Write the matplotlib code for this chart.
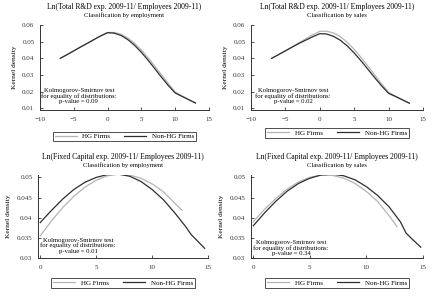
import matplotlib
matplotlib.use("Agg")
import matplotlib.pyplot as plt
from matplotlib.lines import Line2D

plt.rcParams['font.family'] = ['Liberation Serif', 'DejaVu Serif']

# ---- data ----
rd_emp_x_dark = [-7, -6, -5, -4, -3, -2, -1, 0, 1, 2, 3, 4, 5, 6, 7, 8, 9, 10, 11, 12, 13]
rd_emp_dark = [0.0400, 0.0422, 0.0445, 0.0468, 0.0490, 0.0513, 0.0535, 0.0554, 0.0551, 0.0537,
               0.0512, 0.0478, 0.0436, 0.0388, 0.0337, 0.0285, 0.0236, 0.0192, 0.0172, 0.0152, 0.0132]
rd_emp_x_light = rd_emp_x_dark
rd_emp_light = [0.0400, 0.0422, 0.0445, 0.0468, 0.0490, 0.0513, 0.0535, 0.0555, 0.0555, 0.0544,
                0.0522, 0.0490, 0.0450, 0.0403, 0.0352, 0.0300, 0.0248, 0.0198, 0.0174, 0.0153, 0.0132]

rd_sal_x = [-7, -6, -5, -4, -3, -2, -1, 0, 1, 2, 3, 4, 5, 6, 7, 8, 9, 10, 11, 12, 13]
rd_sal_dark = [0.0400, 0.0422, 0.0445, 0.0468, 0.0490, 0.0510, 0.0530, 0.0548, 0.0546, 0.0532,
               0.0508, 0.0474, 0.0432, 0.0385, 0.0334, 0.0283, 0.0234, 0.0190, 0.0171, 0.0151, 0.0131]
rd_sal_light = [0.0400, 0.0422, 0.0445, 0.0469, 0.0494, 0.0518, 0.0542, 0.0562, 0.0563, 0.0552,
                0.0530, 0.0496, 0.0454, 0.0405, 0.0353, 0.0299, 0.0246, 0.0196, 0.0174, 0.0152, 0.0131]

fc_emp_x_dark = [0, 1, 2, 3, 4, 5, 6, 7, 8, 9, 10, 11, 12, 13, 13.5, 14, 14.7]
fc_emp_dark = [0.0388, 0.0418, 0.0446, 0.0470, 0.0488, 0.0500, 0.0507, 0.0508, 0.0503, 0.0490,
               0.0470, 0.0445, 0.0413, 0.0378, 0.0358, 0.0344, 0.0324]
fc_emp_x_light = [0, 1, 2, 3, 4, 5, 6, 7, 8, 9, 10, 11, 12, 12.7]
fc_emp_light = [0.0355, 0.0392, 0.0425, 0.0453, 0.0476, 0.0493, 0.0504, 0.0508, 0.0506, 0.0498,
                0.0484, 0.0465, 0.0437, 0.0418]

fc_sal_x_dark = [0, 1, 2, 3, 4, 5, 6, 7, 8, 9, 10, 11, 12, 13, 13.5, 14, 14.8]
fc_sal_dark = [0.0380, 0.0412, 0.0441, 0.0466, 0.0485, 0.0498, 0.0506, 0.0508, 0.0504, 0.0494,
               0.0477, 0.0455, 0.0427, 0.0390, 0.0362, 0.0348, 0.0327]
fc_sal_x_light = [0, 1, 2, 3, 4, 5, 6, 7, 8, 9, 10, 11, 12, 12.7]
fc_sal_light = [0.0390, 0.0421, 0.0448, 0.0471, 0.0489, 0.0500, 0.0506, 0.0505, 0.0498, 0.0485,
                0.0465, 0.0440, 0.0405, 0.0378]

titles = ["Ln(Total R&D exp. 2009-11/ Employees 2009-11)",
          "Ln(Total R&D exp. 2009-11/ Employees 2009-11)",
          "Ln(Fixed Capital exp. 2009-11/ Employees 2009-11)",
          "Ln(Fixed Capital exp. 2009-11/ Employees 2009-11)"]
subtitles = ["Classification by employment", "Classification by sales",
             "Classification by employment", "Classification by sales"]
pvalues = ["0.09", "0.02", "0.01", "0.34"]
series_names = ["HG Firms", "Non-HG Firms"]

rd_xticks = [-10, -5, 0, 5, 10, 15]
rd_yticks = [0.01, 0.02, 0.03, 0.04, 0.05, 0.06]
rd_yticklabels = ["0.01", "0.02", "0.03", "0.04", "0.05", "0.06"]
fc_xticks = [0, 5, 10, 15]
fc_yticks = [0.03, 0.035, 0.04, 0.045, 0.05]
fc_yticklabels = ["0.03", "0.035", "0.04", "0.045", "0.05"]

LIGHT = "#b4b4b4"
DARK = "#2e2e2e"

W, H = 433, 299
fig = plt.figure(figsize=(W / 100, H / 100), dpi=100)

def px_axes(l, r, t, b):
    return fig.add_axes([l / W, 1 - b / H, (r - l) / W, (b - t) / H])

axes_px = [(40, 209, 25, 110), (251, 423, 25, 110), (38, 208, 175, 258), (251, 423, 175, 258)]
panels = [
    (rd_emp_x_light, rd_emp_light, rd_emp_x_dark, rd_emp_dark),
    (rd_sal_x, rd_sal_light, rd_sal_x, rd_sal_dark),
    (fc_emp_x_light, fc_emp_light, fc_emp_x_dark, fc_emp_dark),
    (fc_sal_x_light, fc_sal_light, fc_sal_x_dark, fc_sal_dark),
]
text_pos = [(0.23, 0.165), (0.245, 0.165), (0.235, 0.15), (0.233, 0.12)]
leg_pos = [(0.50, -0.31), (0.50, -0.27), (0.50, -0.30), (0.50, -0.30)]
title_y = [7, 7, 157, 157]
sub_y = [15, 15, 165, 165]

for i, (pos, data) in enumerate(zip(axes_px, panels)):
    ax = px_axes(*pos)
    xl, yl, xd, yd = data
    ax.plot(xl, yl, color=LIGHT, lw=0.9)
    ax.plot(xd, yd, color=DARK, lw=0.9)
    if i < 2:
        ax.set_xlim(-10, 15)
        ax.set_ylim(0.009, 0.06)
        ax.set_xticks(rd_xticks)
        ax.set_yticks(rd_yticks)
        ax.set_yticklabels(rd_yticklabels)
    else:
        ax.set_xlim(-0.2, 15)
        ax.set_ylim(0.03, 0.0506)
        ax.set_xticks(fc_xticks)
        ax.set_yticks(fc_yticks)
        ax.set_yticklabels(fc_yticklabels)
    for s in ["top", "right"]:
        ax.spines[s].set_visible(False)
    for s in ["left", "bottom"]:
        ax.spines[s].set_linewidth(0.7)
        ax.spines[s].set_color("#333333")
    ax.tick_params(direction="in", length=2, width=0.6, labelsize=5, colors="#333333")
    ax.tick_params(axis="x", pad=5)
    ax.tick_params(axis="y", pad=4)
    ax.set_ylabel("Kernel density", fontsize=5.3, labelpad=4)
    ax.text(text_pos[i][0], text_pos[i][1],
            "Kolmogorov-Smirnov test\nfor equality of distributions:\np-value = " + pvalues[i],
            transform=ax.transAxes, ha="center", va="center", fontsize=4.8, linespacing=1.05)
    cx = (pos[0] + pos[1]) / 2 / W
    fig.text(cx, 1 - title_y[i] / H, titles[i], ha="center", va="center", fontsize=5.5)
    fig.text(cx, 1 - sub_y[i] / H, subtitles[i], ha="center", va="center", fontsize=4.8)
    handles = [Line2D([], [], color=LIGHT, lw=0.9), Line2D([], [], color=DARK, lw=0.9)]
    leg = ax.legend(handles, series_names, loc="center", bbox_to_anchor=leg_pos[i],
                    ncol=2, fontsize=5, frameon=True, fancybox=False, handlelength=3.2,
                    columnspacing=2.0, borderpad=0.25, handletextpad=0.8)
    leg.get_frame().set_edgecolor("#222222")
    leg.get_frame().set_linewidth(0.7)

fig.savefig("out.png", dpi=100)
